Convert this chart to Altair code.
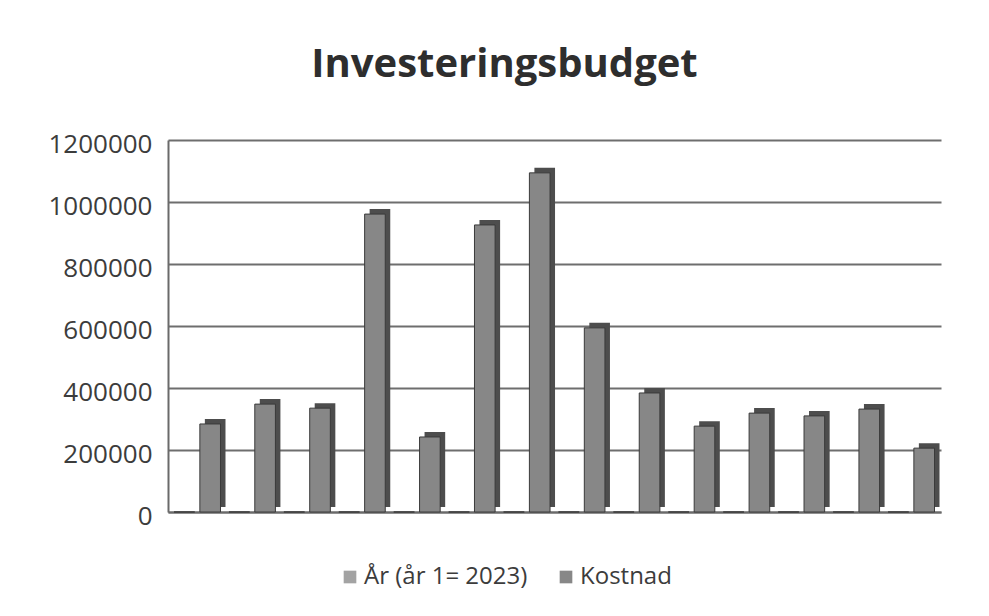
import altair as alt
import pandas as pd

categories = list(range(1, 15))
series_names = ["År (år 1= 2023)", "Kostnad"]
ar_values = list(range(1, 15))
kostnad_values = [284000, 348000, 335000, 961000, 242000, 926000, 1094000,
                  594000, 384000, 277000, 319000, 310000, 332000, 206000]
y_ticks = [0, 200000, 400000, 600000, 800000, 1000000, 1200000]

rows = []
for c, a, k in zip(categories, ar_values, kostnad_values):
    rows.append({"kat": c, "serie": series_names[0], "verdi": a})
    rows.append({"kat": c, "serie": series_names[1], "verdi": k})
df = pd.DataFrame(rows)

FONT = "Open Sans"
color_scale = alt.Scale(domain=series_names, range=["#a3a3a3", "#878787"])

x_enc = alt.X("kat:O", title=None,
              scale=alt.Scale(paddingInner=0.1, paddingOuter=0.087),
              axis=alt.Axis(labels=False, ticks=False, domain=True,
                            domainColor="#6a6a6a", domainWidth=2))
y_enc = alt.Y("verdi:Q", title=None,
              scale=alt.Scale(domain=[0, 1200000], nice=False),
              axis=alt.Axis(values=y_ticks, format="d", ticks=False, labelPadding=16,
                            labelOffset=4,
                            labelFont=FONT, labelFontSize=26, labelColor="#3c3c3c",
                            grid=True, gridColor="#6e6e6e", gridWidth=2,
                            domain=True, domainColor="#6a6a6a", domainWidth=2))

base = alt.Chart(df).encode(x=x_enc, y=y_enc)

# dark side/top face behind each bar, shifted right and up to suggest depth
side = base.mark_bar(yOffset=-5, color="#4d4d4d").encode(
    xOffset=alt.XOffset("serie:N", sort=series_names,
                        scale=alt.Scale(domain=series_names, range=[5, 54],
                                        paddingInner=0.2, paddingOuter=0.05))
)
front = base.mark_bar(stroke="#3a3a3a", strokeWidth=1).encode(
    xOffset=alt.XOffset("serie:N", sort=series_names,
                        scale=alt.Scale(domain=series_names, range=[0, 49],
                                        paddingInner=0.2, paddingOuter=0.05)),
    color=alt.Color("serie:N", scale=color_scale, sort=series_names,
                    legend=alt.Legend(title=None, orient="none", direction="horizontal",
                                      legendX=170, legendY=425,
                                      symbolType="square", symbolSize=160,
                                      symbolStrokeWidth=0, labelLimit=400,
                                      labelFont=FONT, labelFontSize=24,
                                      labelColor="#3c3c3c", columnPadding=26,
                                      labelOffset=2))
)

chart = alt.layer(side, front).resolve_scale(xOffset="independent").properties(
    width=773, height=372,
    title=alt.TitleParams("Investeringsbudget", font=FONT, fontSize=40,
                          fontWeight="bold", color="#2e2e2e",
                          anchor="middle", frame="group", dx=-50, offset=46),
    padding={"left": 168, "top": 140, "right": 48, "bottom": 104},
    autosize=alt.AutoSizeParams(type="none"),
    background="white",
).configure_view(stroke=None)

chart.save("out.html", embed_options={"renderer": "svg", "actions": False})
